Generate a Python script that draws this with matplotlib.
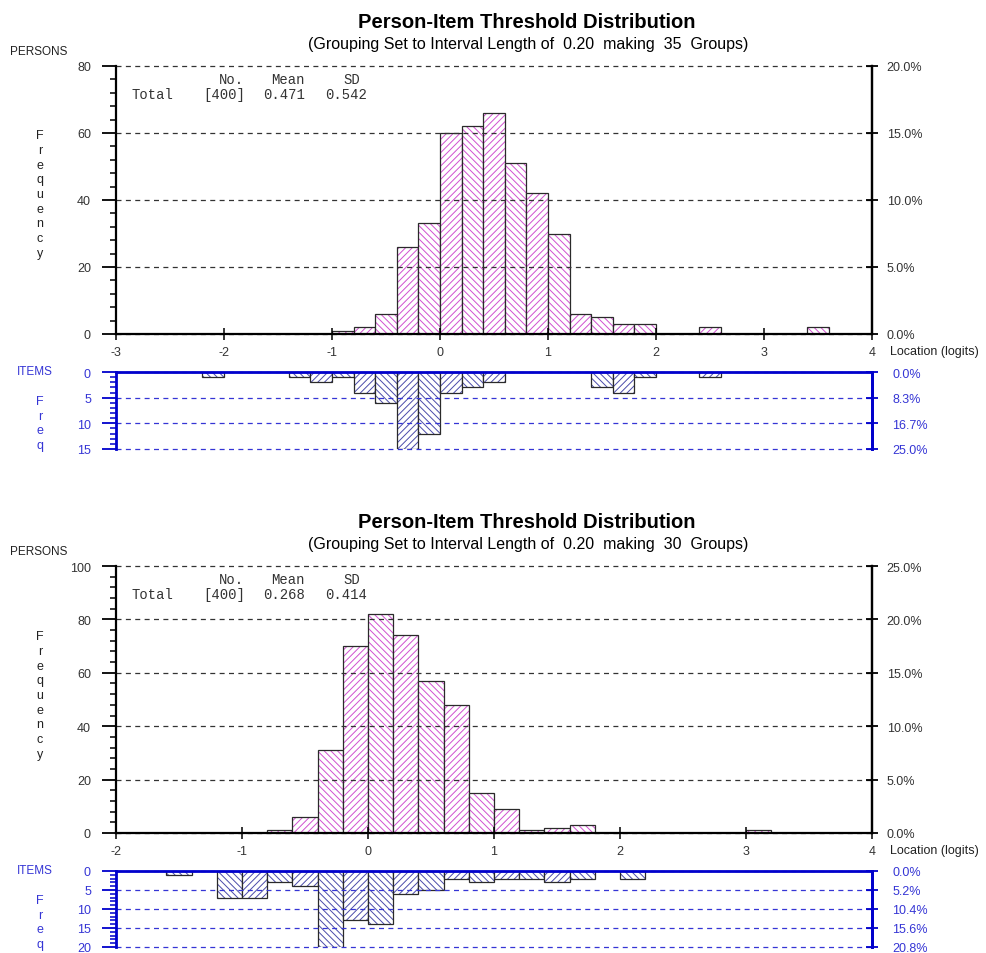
import numpy as np
import matplotlib
matplotlib.use('Agg')
import matplotlib.pyplot as plt
from matplotlib.ticker import MultipleLocator

plt.rcParams['font.family'] = ['Liberation Sans', 'DejaVu Sans']
plt.rcParams['hatch.linewidth'] = 0.7
plt.rcParams['axes.unicode_minus'] = False

# bin width 0.2 logits, bins start at the left edge of the axis
top_start = -3.0
top_persons = [0, 0, 0, 0, 0, 0, 0, 0, 0, 0,
               1, 2, 6, 26, 33, 60, 62, 66, 51, 42,
               30, 6, 5, 3, 3, 0, 0, 2, 0, 0,
               0, 0, 2, 0, 0]
top_items = [0, 0, 0, 0, 1, 0, 0, 0, 1, 2,
             1, 4, 6, 15, 12, 4, 3, 2, 0, 0,
             0, 0, 3, 4, 1, 0, 0, 1, 0, 0,
             0, 0, 0, 0, 0]
top_stats = ['400', '0.471', '0.542']

bot_start = -2.0
bot_persons = [0, 0, 0, 0, 0, 0, 1, 6, 31, 70,
               82, 74, 57, 48, 15, 9, 1, 2, 3, 0,
               0, 0, 0, 0, 0, 1, 0, 0, 0, 0]
bot_items = [0, 0, 1, 0, 7, 7, 3, 4, 20, 13,
             14, 6, 5, 2, 3, 2, 2, 3, 2, 0,
             2, 0, 0, 0, 0, 0, 0, 0, 0, 0]
bot_stats = ['400', '0.268', '0.414']

WIDTH = 0.2
W, H = 987, 954
PINK = '#d050d0'
SLATE = '#4b4baa'
BLUE = '#0000cc'
LBLUE = '#3535d5'
DARK = '#2a2a2a'


def box(x0, y0, x1, y1):
    return [x0 / W, 1 - y1 / H, (x1 - x0) / W, (y1 - y0) / H]


def fxy(x, y):
    return x / W, 1 - y / H


def draw_bars(ax, start, counts, hcolor):
    lefts = start + WIDTH * np.arange(len(counts))
    for i, (x, c) in enumerate(zip(lefts, counts)):
        if c == 0:
            continue
        h = '/////' if i % 2 else '\\\\\\\\\\'
        ax.bar(x, c, WIDTH, align='edge', color='white', edgecolor=hcolor,
               hatch=h, linewidth=0)
        ax.bar(x, c, WIDTH, align='edge', fill=False, edgecolor=DARK,
               linewidth=0.9)


def persons_panel(fig, rect, start, counts, ymax):
    total = sum(counts)
    ax = fig.add_axes(rect)
    draw_bars(ax, start, counts, PINK)
    ax.set_xlim(start, 4)
    ax.set_ylim(0, ymax)
    ax.spines['top'].set_visible(False)
    for s in ['left', 'right', 'bottom']:
        ax.spines[s].set_linewidth(1.6)
        ax.spines[s].set_color('black')
    ax.yaxis.set_major_locator(MultipleLocator(20))
    ax.yaxis.set_minor_locator(MultipleLocator(4))
    ax.tick_params(axis='y', which='major', direction='out', length=10,
                   width=1.3, pad=8, labelsize=9, labelcolor='#333333')
    ax.tick_params(axis='y', which='minor', direction='out', length=4,
                   width=1.1)
    ax.xaxis.set_major_locator(MultipleLocator(1))
    ax.tick_params(axis='x', direction='inout', length=8, width=1.1,
                   pad=5, labelsize=9, labelcolor='#333333')
    ax.grid(axis='y', linestyle=(0, (4, 3.5)), color='#333333',
            linewidth=0.9)
    for gl in ax.get_ygridlines():
        gl.set_clip_on(False)
    ax2 = ax.twinx()
    ax2.set_ylim(0, ymax)
    ticks = np.arange(0, ymax + 1, 20)
    ax2.set_yticks(ticks)
    ax2.set_yticklabels([f'{100 * t / total:.1f}%' for t in ticks])
    for s in ['left', 'top', 'bottom']:
        ax2.spines[s].set_visible(False)
    ax2.spines['right'].set_linewidth(1.6)
    ax2.tick_params(axis='y', direction='inout', length=9, width=1.3,
                    pad=6, labelsize=9, labelcolor='#333333')
    return ax


def items_panel(fig, rect, start, counts, ymax):
    total = sum(counts)
    ax = fig.add_axes(rect)
    draw_bars(ax, start, counts, SLATE)
    ax.set_xlim(start, 4)
    ax.set_ylim(ymax, 0)
    ax.spines['bottom'].set_visible(False)
    for s in ['left', 'right', 'top']:
        ax.spines[s].set_linewidth(2)
        ax.spines[s].set_color(BLUE)
    ax.set_xticks([])
    ax.yaxis.set_major_locator(MultipleLocator(5))
    ax.yaxis.set_minor_locator(MultipleLocator(1))
    ax.tick_params(axis='y', which='major', direction='out', length=10,
                   width=1.3, color=BLUE, pad=8, labelsize=9,
                   labelcolor=LBLUE)
    ax.tick_params(axis='y', which='minor', direction='out', length=4,
                   width=1.1, color=BLUE)
    ax.grid(axis='y', linestyle=(0, (4, 3.5)), color=LBLUE, linewidth=0.9)
    for gl in ax.get_ygridlines():
        gl.set_clip_on(False)
    ax2 = ax.twinx()
    ax2.set_ylim(ymax, 0)
    ticks = np.arange(0, ymax + 1, 5)
    ax2.set_yticks(ticks)
    ax2.set_yticklabels([f'{100 * t / total:.1f}%' for t in ticks])
    for s in ['left', 'top', 'bottom']:
        ax2.spines[s].set_visible(False)
    ax2.spines['right'].set_linewidth(2)
    ax2.spines['right'].set_color(BLUE)
    ax2.tick_params(axis='y', direction='inout', length=9, width=1.3,
                    color=BLUE, pad=10, labelsize=9, labelcolor=LBLUE)
    return ax


def headings(fig, y0, groups, stats):
    # y0 is the pixel row of the persons axis top
    fig.text(*fxy(527, y0 - 44), 'Person-Item Threshold Distribution',
             ha='center', va='center', fontsize=14.5, fontweight='bold')
    fig.text(*fxy(528, y0 - 22),
             f'(Grouping Set to Interval Length of  0.20  making  {groups}  Groups)',
             ha='center', va='center', fontsize=11.5)
    fig.text(*fxy(10, y0 - 15), 'PERSONS', ha='left', va='center',
             fontsize=8.5, color='#222222')
    mono = dict(family='Liberation Mono', fontsize=10, va='center',
                ha='left', color='#333333')
    fig.text(*fxy(219, y0 + 13), 'No.', **mono)
    fig.text(*fxy(271, y0 + 13), 'Mean', **mono)
    fig.text(*fxy(343, y0 + 13), 'SD', **mono)
    fig.text(*fxy(131, y0 + 28), 'Total', **mono)
    fig.text(*fxy(203, y0 + 28), f'[{stats[0]}]', **mono)
    fig.text(*fxy(263, y0 + 28), stats[1], **mono)
    fig.text(*fxy(325, y0 + 28), stats[2], **mono)


def side_labels(fig, freq_y, base_y, items_y):
    fig.text(*fxy(40, freq_y), '\n'.join('Frequency'), ha='center',
             va='center', fontsize=9, linespacing=1.3, color='#222222')
    fig.text(*fxy(890, base_y + 17), 'Location (logits)', ha='left',
             va='center', fontsize=9, color='#222222')
    fig.text(*fxy(35, items_y), 'ITEMS', ha='center', va='center',
             fontsize=8.5, color=LBLUE)
    fig.text(*fxy(40, items_y + 52), '\n'.join('Freq'), ha='center',
             va='center', fontsize=9, linespacing=1.3, color=LBLUE)


fig = plt.figure(figsize=(W / 100, H / 100), dpi=100)

persons_panel(fig, box(116, 67, 872, 335), top_start, top_persons, 80)
items_panel(fig, box(116, 373, 872, 450), top_start, top_items, 15)
headings(fig, 67, 35, top_stats)
side_labels(fig, 195, 335, 372)

persons_panel(fig, box(116, 567, 872, 834), bot_start, bot_persons, 100)
items_panel(fig, box(116, 872, 872, 948), bot_start, bot_items, 20)
headings(fig, 567, 30, bot_stats)
side_labels(fig, 696, 834, 871)

fig.savefig('out.png', dpi=100)
